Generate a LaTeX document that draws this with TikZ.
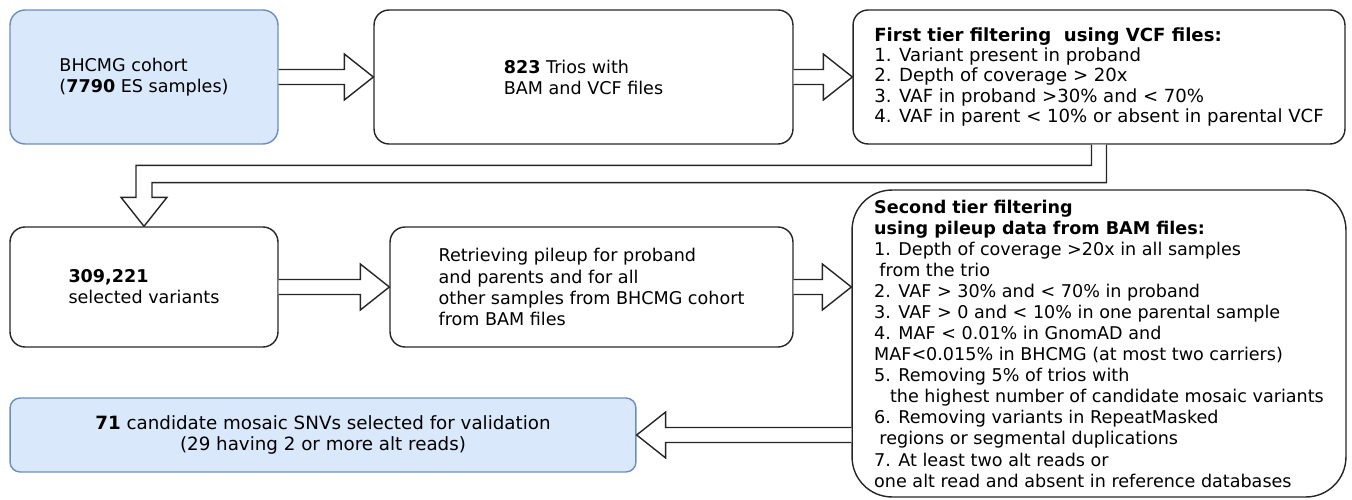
\documentclass[tikz,border=0pt]{standalone}
\usepackage{fontspec}
\setmainfont{DejaVu Sans}
\usetikzlibrary{calc}
\definecolor{cohortblue}{HTML}{DAE8FC}
\definecolor{cohortline}{HTML}{6C8EBF}
\tikzset{
  stepbox/.style={rectangle, rounded corners=0.3cm, draw=black!85, line width=0.8pt, align=left, font=\fontsize{10}{12}\selectfont},
  bluebox/.style={stepbox, draw=cohortline, fill=cohortblue},
  blockarr/.style={draw=black!85, fill=white, line width=0.8pt}
}
\newcommand{\blockarrow}[3]{%
  \draw[blockarr] ($(#1)+(0,-7.5)$) -- ($(#2)+(-29*#3,-7.5)$) -- ($(#2)+(-29*#3,-23)$) -- (#2)
    -- ($(#2)+(-29*#3,23)$) -- ($(#2)+(-29*#3,7.5)$) -- ($(#1)+(0,7.5)$);}

\begin{document}
\begin{tikzpicture}[x=0.02cm, y=-0.02cm]

        \useasboundingbox (0,0) rectangle (1352,500);

        \node (cohort) [bluebox, minimum width=5.36cm, minimum height=2.68cm] at (144,77) {BHCMG cohort\\(\textbf{7790} ES samples)};
        \node (trios) [stepbox, minimum width=8.38cm, minimum height=2.68cm] at (583.5,77) {\textbf{823} Trios with\\BAM and VCF files};
        \node (first) [stepbox, minimum width=9.84cm, minimum height=2.68cm, font=\fontsize{10.3}{11.6}\selectfont] at (1099,77) {\textbf{First tier filtering\ \ using VCF files:}\\1. Variant present in proband\\2. Depth of coverage > 20x\\3. VAF in proband >30\% and < 70\%\\4. VAF in parent < 10\% or absent in parental VCF};

        \node (variants) [stepbox, minimum width=5.36cm, minimum height=2.4cm] at (144,287) {\textbf{309,221}\\selected variants};
        \node (pileup) [stepbox, minimum width=8.06cm, minimum height=2.4cm] at (591.5,287) {Retrieving pileup for proband\\and parents and for all\\other samples from BHCMG cohort\\from BAM files};
        \node (second) [stepbox, rounded corners=0.8cm, minimum width=9.88cm, minimum height=6.14cm] at (1099,343.5) {\textbf{Second tier filtering}\\\textbf{using pileup data from BAM files:}\\1. Depth of coverage >20x in all samples\\\hspace{0.3em}from the trio\\2. VAF > 30\% and < 70\% in proband\\3. VAF > 0 and < 10\% in one parental sample\\4. MAF < 0.01\% in GnomAD and\\MAF<0.015\% in BHCMG (at most two carriers)\\5. Removing 5\% of trios with\\\hspace{0.9em}the highest number of candidate mosaic variants\\6. Removing variants in RepeatMasked\\\hspace{0.3em}regions or segmental duplications\\7. At least two alt reads or\\one alt read and absent in reference databases};

        \node (final) [bluebox, rounded corners=0.2cm, align=center, minimum width=12.52cm, minimum height=1.48cm, font=\fontsize{10.4}{12.2}\selectfont] at (323,435) {\textbf{71} candidate mosaic SNVs selected for validation\\(29 having 2 or more alt reads)};

        \blockarrow{cohort.east}{trios.west}{1}
        \blockarrow{trios.east}{first.west}{1}
        \blockarrow{variants.east}{pileup.west}{1}
        \blockarrow{pileup.east}{second.west |- pileup.east}{1}
        \blockarrow{second.west |- final.east}{final.east}{-1}

        \draw[blockarr] ($(first.south)+(-7.5,0)$) |- ($(variants.north)+(-8,-61)$) -- ++(0,32) -- ++(-15,0) -- (variants.north)
            -- ++(23,-29) -- ++(-15,0) |- ($(first.south)+(7.5,38)$) -- ($(first.south)+(7.5,0)$);

    \end{tikzpicture}
\end{document}
